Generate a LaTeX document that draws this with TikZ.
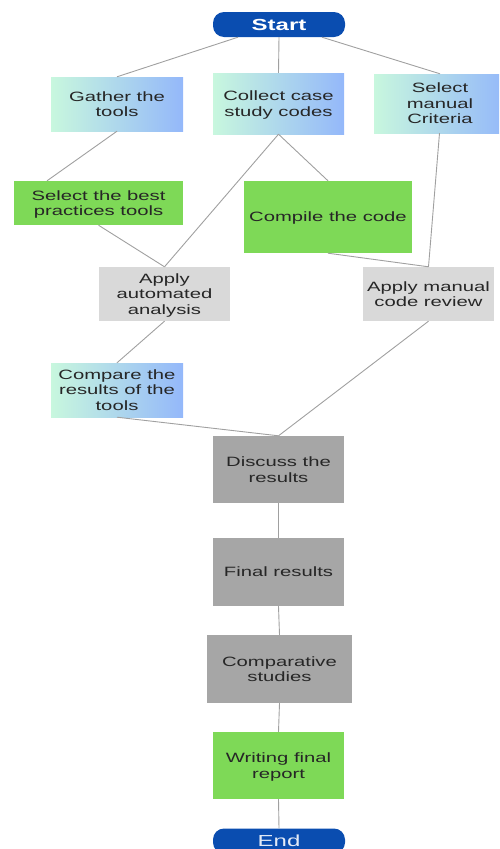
\documentclass[tikz,border=0pt]{standalone}
\usepackage{fontspec}
\setmainfont[FakeStretch=1.5]{Liberation Sans}
\begin{document}
\begin{tikzpicture}[x=1pt,y=-1pt,
  base/.style={inner sep=0pt, align=center, text depth=0pt, text=black!85, font=\fontsize{13.5}{15.5}\selectfont},
  term/.style={base, fill=termblue, rounded corners=11pt, minimum width=132pt, minimum height=25pt, text=white, font=\fontsize{16}{18}\selectfont\bfseries},
  grad/.style={base, left color=gradL, right color=gradR},
  greenbox/.style={base, fill=boxgreen},
  lgray/.style={base, fill=boxlgray},
  dgray/.style={base, fill=boxdgray},
  conn/.style={draw=linegray, line width=0.9pt}
]
\definecolor{termblue}{HTML}{0A4DB0}
\definecolor{gradL}{HTML}{C8F7DE}
\definecolor{gradR}{HTML}{94B8FA}
\definecolor{boxgreen}{HTML}{7ED957}
\definecolor{boxlgray}{HTML}{D9D9D9}
\definecolor{boxdgray}{HTML}{A6A6A6}
\definecolor{linegray}{HTML}{A0A0A0}
\useasboundingbox (0,0) rectangle (499,849);
\begin{scope}
\clip (0,0) rectangle (499,849);
\node[term] (start) at (279,24.5) {Start};
\node[grad, minimum width=132pt, minimum height=54pt] (gather) at (117,104) {Gather the\\tools};
\node[grad, minimum width=131pt, minimum height=61pt] (collect) at (278.5,103.5) {Collect case\\study codes};
\node[grad, minimum width=132pt, minimum height=59pt] (selman) at (440,103.5) {Select\\manual\\Criteria};
\node[greenbox, minimum width=169pt, minimum height=44pt] (selbest) at (98.5,203) {Select the best\\practices tools};
\node[greenbox, minimum width=168pt, minimum height=72pt] (compile) at (328,217) {Compile the code};
\node[lgray, minimum width=131pt, minimum height=54pt] (auto) at (164.5,294) {Apply\\automated\\analysis};
\node[lgray, minimum width=131pt, minimum height=54pt] (manual) at (428.5,294) {Apply manual\\code review};
\node[grad, minimum width=132pt, minimum height=54pt] (compare) at (117,390) {Compare the\\results of the\\tools};
\node[dgray, minimum width=131pt, minimum height=67pt] (discuss) at (278.5,469.5) {Discuss the\\results};
\node[dgray, minimum width=131pt, minimum height=68pt] (final) at (278.5,572) {Final results};
\node[dgray, minimum width=145pt, minimum height=68pt] (comp) at (279.5,669) {Comparative\\studies};
\node[greenbox, minimum width=131pt, minimum height=67pt] (writing) at (278.5,765.5) {Writing final\\report};
\node[term, text=white!88!termblue, font=\fontsize{16}{18}\selectfont] (end) at (279,841) {End};

\draw[conn] ([xshift=-41pt]start.south) -- (gather.north);
\draw[conn] (start.south) -- (collect.north);
\draw[conn] ([xshift=43pt]start.south) -- (selman.north);
\draw[conn] (gather.south) -- ([xshift=-51.5pt]selbest.north);
\draw[conn] (collect.south) -- (compile.north);
\draw[conn] (collect.south) -- (auto.north);
\draw[conn] (selbest.south) -- (auto.north);
\draw[conn] (compile.south) -- (manual.north);
\draw[conn] ([xshift=-0.5pt]selman.south) -- (manual.north);
\draw[conn] (auto.south) -- (compare.north);
\draw[conn] (manual.south) -- (discuss.north);
\draw[conn] (compare.south) -- (discuss.north);
\draw[conn] (discuss.south) -- (final.north);
\draw[conn] (final.south) -- (comp.north);
\draw[conn] (comp.south) -- (writing.north);
\draw[conn] (writing.south) -- (end.north);
\end{scope}
\end{tikzpicture}
\end{document}
